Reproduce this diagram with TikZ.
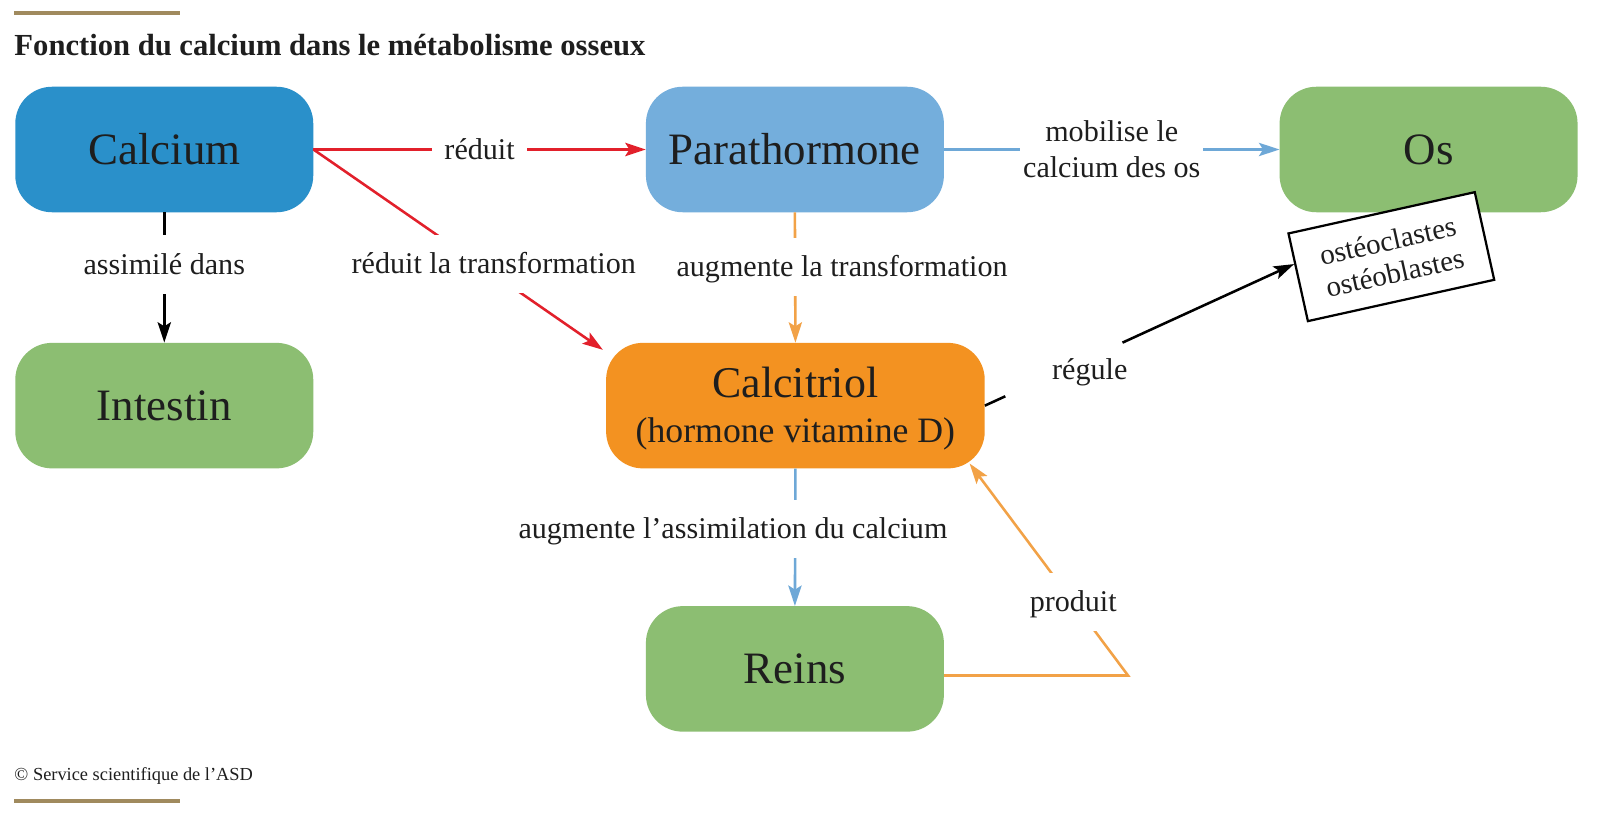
\documentclass[tikz,border=0pt]{standalone}
\usepackage{fontspec}
\setmainfont{Liberation Serif}
\usetikzlibrary{arrows.meta,calc}
\definecolor{cablue}{HTML}{2A90CA}
\definecolor{ptblue}{HTML}{74AEDC}
\definecolor{grn}{HTML}{8CBE72}
\definecolor{orng}{HTML}{F39221}
\definecolor{redl}{HTML}{E2202B}
\definecolor{orl}{HTML}{F2A247}
\definecolor{bll}{HTML}{6EA8D7}
\definecolor{gold}{HTML}{A08A5E}
\definecolor{txt}{HTML}{1E1E1E}
\tikzset{
  box/.style={rounded corners=36pt, minimum width=292pt, minimum height=123pt,
    inner sep=0pt, text=txt, font=\fontsize{44}{50}\selectfont, align=center},
  lbl/.style={fill=white, inner xsep=12pt, inner ysep=16pt, text height=22pt, text depth=3pt,
    text=txt, font=\fontsize{29.5}{35}\selectfont},
  lbltwo/.style={fill=white, inner xsep=3pt, inner ysep=4pt, align=center,
    text=txt, font=\fontsize{29.5}{35}\selectfont},
  plain/.style={text=txt, font=\fontsize{29.5}{35}\selectfont},
  conn/.style={line width=2.5pt},
  tip/.style={-{Stealth[length=20pt,width=13pt,inset=4pt]}},
  goldline/.style={gold, line width=3.8pt}
}
\begin{document}
\begin{tikzpicture}[x=1pt,y=-1pt]
\useasboundingbox (0,0) rectangle (1568,801.6);
\fill[white] (0,0) rectangle (1568,801.6);

% decorative lines and title
\draw[goldline] (14,13) coordinate (g1) -- (176,13) coordinate (g2);
\draw[goldline] (14,785) coordinate (g3) -- (176,785) coordinate (g4);
\node[anchor=base west, inner sep=0pt, text=txt, font=\bfseries\fontsize{30}{36}\selectfont] (title) at (14,54) {Fonction du calcium dans le métabolisme osseux};
\node[anchor=base west, inner sep=0pt, text=txt, font=\fontsize{18}{22}\selectfont] (copy) at (14,765) {© Service scientifique de l’ASD};

% main boxes
\node[box, fill=cablue] (calcium) at (161,146.5) {Calcium};
\node[box, fill=grn] (intestin) at (161,397.5) {Intestin};
\node[box, fill=ptblue] (parath) at (779,146.5) {Parathormone};
\node[box, fill=grn] (os) at (1400,146.5) {Os};
\node[box, fill=orng, minimum width=371pt] (calcitriol) at (779.5,397.5) {};
\node[align=center, inner sep=0pt, text=txt, font=\fontsize{43}{44}\selectfont] (calcitrioltext) at ($(calcitriol.center)+(0,3)$)
  {Calcitriol\\{\fontsize{35}{44}\selectfont(hormone vitamine D)}};
\node[box, fill=grn] (reins) at (779,655.5) {Reins};
\node[draw=black, line width=2.2pt, fill=white, rotate=12.5, minimum width=187pt, minimum height=88pt,
  inner sep=2pt, align=center, text=txt, font=\fontsize{28.5}{32}\selectfont] (osteo) at (1363.5,251.5)
  {ostéoclastes\\ostéoblastes};

% connectors
\draw[conn, redl, tip] (calcium.east) -- node[lbl] {réduit} (parath.west);
\coordinate (ctop) at ($(calcitriol.north west)+(-3,7)$);
\draw[conn, redl, tip] (calcium.east) -- node[lbl, pos=0.623, yshift=10pt] {réduit la transformation} (ctop);
\draw[conn, black, tip] (calcium.south) -- node[lbl, pos=0.40] {assimilé dans} (intestin.north);
\draw[conn, orl, tip] (parath.south) -- node[lbl, pos=0.42, xshift=46pt] {augmente la transformation} (calcitriol.north);
\draw[conn, bll, tip] (parath.east) -- node[lbltwo] {mobilise le\\calcium des os} (os.west);
\draw[conn, bll, tip] (calcitriol.south) -- node[lbl, pos=0.437, xshift=-61pt] {augmente l’assimilation du calcium} (reins.north);

\coordinate (rtip) at ($(osteo.north west)!0.35!(osteo.south west)$);
\draw[conn, black] (calcitriol.east) -- ($(calcitriol.east)!0.066!(rtip)$);
\draw[conn, black, tip] ($(calcitriol.east)!0.445!(rtip)$) -- (rtip);
\node[plain] (regule) at (1068,365) {régule};

\coordinate (rstart) at ($(reins.east)+(0,6.5)$);
\coordinate (pk) at (1105.5,662);
\coordinate (cbot) at ($(calcitriol.south east)+(-15,-5)$);
\draw[conn, orl, tip] (rstart) -- (pk) -- node[lbl, pos=0.346] {produit} (cbot);
\end{tikzpicture}
\end{document}
